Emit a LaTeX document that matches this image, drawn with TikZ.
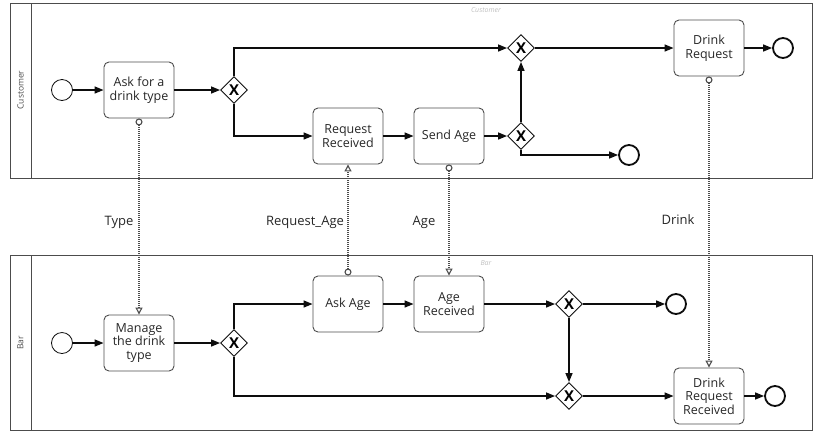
\documentclass[tikz,border=0pt]{standalone}
\usepackage{fontspec}
\setmainfont{Open Sans}
\usetikzlibrary{arrows.meta, shapes.geometric}
\definecolor{mainBlack}{gray}{0.05}
\definecolor{subGray}{gray}{0.3}
\definecolor{textGray}{gray}{0.15}
\definecolor{faintGray}{gray}{0.75}

\tikzset{
    task/.style={draw=subGray, line width=0.9pt, rounded corners=5pt, minimum width=70pt, minimum height=56pt,
        align=center, inner sep=2pt, font=\fontsize{12.5}{13.5}\selectfont, text=textGray},
    gate/.style={draw=mainBlack, line width=0.9pt, diamond, minimum size=27pt, inner sep=0pt,
        font=\fontsize{15}{15}\selectfont\bfseries},
    startev/.style={draw=mainBlack, line width=0.8pt, circle, minimum size=21pt, inner sep=0pt},
    endev/.style={draw=mainBlack, circle, line width=1.8pt, minimum size=20pt, inner sep=0pt},
    seq/.style={-{Triangle[length=9pt, width=7pt]}, line width=1.4pt, mainBlack},
    msg/.style={{Circle[open, length=7pt, fill=white]}-{Triangle[open, length=7pt, width=7pt, fill=white]},
        dash pattern=on 1pt off 1pt, line width=1.1pt, subGray},
    pool/.style={draw=subGray, line width=0.8pt},
    lanename/.style={rotate=90, font=\fontsize{8.5}{8.5}\selectfont, text=subGray},
    poolhint/.style={font=\fontsize{7}{7}\selectfont\itshape, text=faintGray},
    flowlabel/.style={font=\fontsize{13}{13}\selectfont, text=textGray},
}

\begin{document}
\begin{tikzpicture}[x=1pt, y=-1pt]
    \useasboundingbox (0,0) rectangle (813,432);

    % pools
    \draw[pool] (10,3) rectangle (812,178);
    \draw[pool] (31,3) -- (31,178);
    \node[lanename] (custname) at (20.5,90) {Customer};
    \node[poolhint] (custhint) at (486,10) {Customer};

    \draw[pool] (10,255) rectangle (812,430);
    \draw[pool] (31,255) -- (31,430);
    \node[lanename] (barname) at (20.5,343) {Bar};
    \node[poolhint] (barhint) at (486,263) {Bar};

    % customer lane
    \node[startev] (cstart) at (62,90) {};
    \node[task] (asktype) at (139,90) {Ask for a\\drink type};
    \node[gate] (cgate) at (234,90) {X};
    \node[task] (reqrec) at (348,136) {Request\\Received};
    \node[task] (sendage) at (449,136) {Send Age};
    \node[gate] (agegate) at (521,136) {X};
    \node[gate] (cjoin) at (521,48) {X};
    \node[task] (drinkreq) at (709,48) {Drink\\Request};
    \node[endev] (cend1) at (629,155) {};
    \node[endev] (cend2) at (783,48) {};

    \draw[seq] (cstart) -- (asktype);
    \draw[seq] (asktype) -- (cgate);
    \draw[seq] (cgate.north) |- (cjoin.west);
    \draw[seq] (cgate.south) |- (reqrec.west);
    \draw[seq] (reqrec) -- (sendage);
    \draw[seq] (sendage) -- (agegate);
    \draw[seq] (agegate.north) -- (cjoin.south);
    \draw[seq] (agegate.south) |- (cend1.west);
    \draw[seq] (cjoin) -- (drinkreq);
    \draw[seq] (drinkreq) -- (cend2);

    % bar lane
    \node[startev] (bstart) at (62,343) {};
    \node[task] (managetype) at (139,343) {Manage\\the drink\\type};
    \node[gate] (bgate) at (234,343) {X};
    \node[task] (askage) at (348,304) {Ask Age};
    \node[task] (agerec) at (449,304) {Age\\Received};
    \node[gate] (bagegate) at (569,304) {X};
    \node[gate] (bjoin) at (569,396) {X};
    \node[task] (drinkrec) at (709,396) {Drink\\Request\\Received};
    \node[endev] (bend1) at (676,304) {};
    \node[endev] (bend2) at (775,396) {};

    \draw[seq] (bstart) -- (managetype);
    \draw[seq] (managetype) -- (bgate);
    \draw[seq] (bgate.north) |- (askage.west);
    \draw[seq] (bgate.south) |- (bjoin.west);
    \draw[seq] (askage) -- (agerec);
    \draw[seq] (agerec) -- (bagegate);
    \draw[seq] (bagegate) -- (bend1);
    \draw[seq] (bagegate.south) -- (bjoin.north);
    \draw[seq] (bjoin) -- (drinkrec);
    \draw[seq] (drinkrec) -- (bend2);

    % message flows
    \draw[msg] (asktype.south) -- (managetype.north);
    \draw[msg] (askage.north) -- (reqrec.south);
    \draw[msg] (sendage.south) -- (agerec.north);
    \draw[msg] (drinkreq.south) -- (drinkrec.north);

    \node[flowlabel] (typelbl) at (119,222) {Type};
    \node[flowlabel] (reqagelbl) at (305,222) {Request\_Age};
    \node[flowlabel] (agelbl) at (424,222) {Age};
    \node[flowlabel] (drinklbl) at (678,220) {Drink};
\end{tikzpicture}
\end{document}
